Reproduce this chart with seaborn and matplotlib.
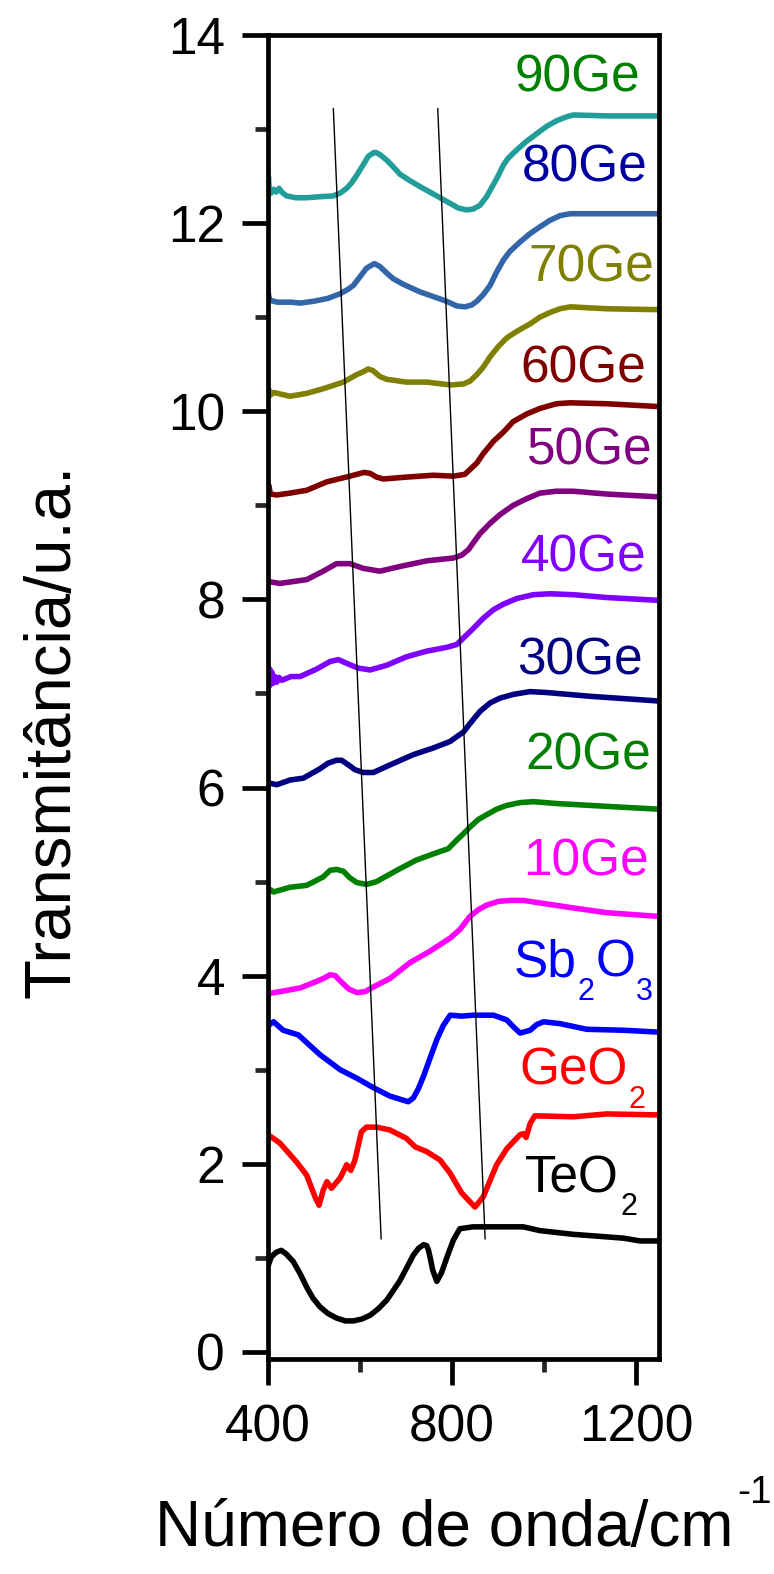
import numpy as np
import pandas as pd
import matplotlib
matplotlib.use("Agg")
import matplotlib.pyplot as plt
import seaborn as sns

# ---------------- data ----------------
x_90 = [400, 401, 403, 407, 412, 418, 424, 430, 440, 460, 484, 510, 542, 557, 571, 582, 593, 607, 618, 630, 635, 643, 658, 672, 687, 709, 730, 752, 774, 796, 814, 832, 846, 861, 875, 890, 901, 912, 922, 941, 962, 984, 1006, 1028, 1049, 1064, 1136, 1249]
y_90 = [12.40, 12.49, 12.33, 12.32, 12.36, 12.33, 12.37, 12.33, 12.29, 12.27, 12.27, 12.28, 12.29, 12.32, 12.37, 12.43, 12.51, 12.62, 12.71, 12.75, 12.75, 12.73, 12.67, 12.60, 12.52, 12.45, 12.39, 12.33, 12.27, 12.21, 12.16, 12.14, 12.15, 12.19, 12.28, 12.41, 12.51, 12.62, 12.69, 12.78, 12.87, 12.95, 13.03, 13.09, 13.13, 13.15, 13.14, 13.14]

x_80 = [400, 401, 404, 420, 450, 470, 500, 530, 557, 575, 586, 600, 614, 631, 643, 658, 672, 694, 730, 759, 788, 810, 828, 843, 854, 868, 883, 897, 912, 926, 948, 970, 991, 1013, 1035, 1057, 1249]
y_80 = [11.32, 11.24, 11.18, 11.16, 11.16, 11.15, 11.17, 11.20, 11.25, 11.30, 11.34, 11.43, 11.52, 11.57, 11.54, 11.47, 11.41, 11.35, 11.27, 11.22, 11.17, 11.12, 11.11, 11.13, 11.17, 11.24, 11.34, 11.48, 11.61, 11.70, 11.80, 11.89, 11.96, 12.03, 12.08, 12.10, 12.10]

x_70 = [400, 402, 405, 412, 430, 448, 484, 520, 564, 593, 607, 618, 629, 643, 658, 701, 745, 796, 825, 839, 854, 868, 883, 901, 919, 941, 970, 991, 1013, 1035, 1057, 1136, 1249]
y_70 = [10.14, 10.23, 10.17, 10.20, 10.18, 10.16, 10.19, 10.24, 10.31, 10.39, 10.42, 10.45, 10.43, 10.37, 10.34, 10.31, 10.31, 10.28, 10.29, 10.32, 10.39, 10.47, 10.58, 10.69, 10.78, 10.85, 10.93, 11.00, 11.05, 11.09, 11.11, 11.09, 11.08]

x_60 = [400, 402, 405, 419, 448, 484, 528, 578, 609, 622, 636, 651, 701, 759, 803, 828, 839, 854, 868, 890, 912, 933, 962, 991, 1027, 1057, 1136, 1249]
y_60 = [9.15, 9.21, 9.12, 9.11, 9.13, 9.16, 9.25, 9.31, 9.35, 9.34, 9.30, 9.28, 9.30, 9.32, 9.31, 9.33, 9.38, 9.45, 9.55, 9.68, 9.78, 9.89, 9.97, 10.03, 10.08, 10.09, 10.08, 10.05]

x_50 = [400, 426, 455, 484, 520, 549, 578, 607, 643, 687, 745, 803, 821, 836, 846, 861, 883, 904, 933, 962, 991, 1027, 1064, 1136, 1249]
y_50 = [8.19, 8.17, 8.19, 8.21, 8.30, 8.38, 8.38, 8.33, 8.30, 8.35, 8.41, 8.44, 8.47, 8.53, 8.60, 8.70, 8.81, 8.90, 9.00, 9.07, 9.13, 9.15, 9.15, 9.12, 9.09]

x_40 = [400, 401, 403, 405, 407, 409, 411, 415, 419, 424, 430, 440, 450, 470, 506, 535, 553, 571, 596, 622, 658, 701, 745, 788, 810, 825, 846, 868, 890, 912, 941, 977, 1013, 1064, 1136, 1249]
y_40 = [7.17, 7.28, 7.08, 7.25, 7.10, 7.22, 7.11, 7.18, 7.12, 7.17, 7.14, 7.16, 7.18, 7.18, 7.26, 7.34, 7.36, 7.32, 7.27, 7.25, 7.30, 7.39, 7.45, 7.49, 7.52, 7.59, 7.69, 7.80, 7.89, 7.95, 8.01, 8.05, 8.06, 8.05, 8.02, 7.99]

x_30 = [400, 419, 448, 477, 513, 531, 549, 560, 575, 589, 607, 629, 665, 716, 759, 796, 810, 825, 839, 861, 883, 904, 933, 970, 1006, 1100, 1249]
y_30 = [6.05, 6.03, 6.08, 6.10, 6.20, 6.26, 6.29, 6.29, 6.24, 6.19, 6.16, 6.16, 6.24, 6.35, 6.42, 6.49, 6.54, 6.59, 6.68, 6.81, 6.90, 6.95, 6.99, 7.02, 7.01, 6.97, 6.92]

x_20 = [400, 412, 448, 484, 520, 535, 549, 564, 578, 593, 614, 636, 680, 723, 774, 792, 810, 825, 839, 857, 875, 897, 919, 948, 977, 1028, 1136, 1249]
y_20 = [4.93, 4.89, 4.94, 4.96, 5.05, 5.12, 5.13, 5.11, 5.04, 4.99, 4.97, 5.00, 5.12, 5.23, 5.32, 5.35, 5.44, 5.51, 5.58, 5.66, 5.71, 5.77, 5.81, 5.84, 5.85, 5.83, 5.80, 5.77]

x_10 = [400, 426, 470, 506, 520, 535, 546, 560, 575, 593, 611, 629, 665, 709, 752, 796, 817, 839, 857, 875, 901, 926, 955, 1064, 1136, 1249]
y_10 = [3.81, 3.83, 3.87, 3.94, 3.97, 4.01, 4.00, 3.93, 3.86, 3.82, 3.83, 3.88, 3.97, 4.14, 4.26, 4.40, 4.49, 4.63, 4.70, 4.75, 4.79, 4.80, 4.80, 4.72, 4.67, 4.63]

x_sb = [400, 412, 433, 466, 513, 557, 593, 629, 665, 705, 716, 727, 738, 752, 767, 781, 796, 821, 846, 890, 919, 935, 948, 970, 984, 999, 1035, 1093, 1172, 1249]
y_sb = [3.47, 3.51, 3.42, 3.37, 3.16, 3.00, 2.91, 2.81, 2.72, 2.66, 2.70, 2.80, 2.93, 3.12, 3.32, 3.47, 3.58, 3.57, 3.58, 3.58, 3.53, 3.45, 3.39, 3.42, 3.48, 3.51, 3.49, 3.43, 3.42, 3.40]

x_ge = [400, 426, 462, 484, 502, 511, 520, 528, 538, 557, 571, 580, 589, 603, 614, 636, 665, 701, 720, 745, 774, 796, 821, 850, 868, 897, 919, 948, 955, 961, 970, 980, 1064, 1136, 1249]
y_ge = [2.31, 2.22, 2.02, 1.88, 1.65, 1.56, 1.72, 1.81, 1.74, 1.85, 1.99, 1.93, 2.04, 2.34, 2.39, 2.39, 2.36, 2.27, 2.18, 2.13, 2.04, 1.90, 1.69, 1.54, 1.65, 1.99, 2.16, 2.31, 2.32, 2.28, 2.43, 2.51, 2.50, 2.53, 2.52]

x_te = [400, 407, 418, 429, 440, 455, 470, 484, 498, 513, 530, 549, 568, 586, 604, 622, 640, 658, 672, 687, 701, 716, 727, 738, 745, 749, 754, 758, 767, 777, 790, 803, 817, 846, 955, 991, 1064, 1172, 1209, 1249]
y_te = [0.91, 1.01, 1.06, 1.08, 1.04, 0.96, 0.83, 0.69, 0.57, 0.48, 0.41, 0.36, 0.33, 0.33, 0.35, 0.39, 0.46, 0.55, 0.65, 0.76, 0.89, 1.03, 1.10, 1.14, 1.13, 1.08, 0.97, 0.87, 0.75, 0.84, 1.02, 1.19, 1.31, 1.33, 1.33, 1.29, 1.25, 1.21, 1.18, 1.18]

series_names = ["90Ge", "80Ge", "70Ge", "60Ge", "50Ge", "40Ge", "30Ge", "20Ge", "10Ge", "Sb2O3", "GeO2", "TeO2"]
series_x = [x_90, x_80, x_70, x_60, x_50, x_40, x_30, x_20, x_10, x_sb, x_ge, x_te]
series_y = [y_90, y_80, y_70, y_60, y_50, y_40, y_30, y_20, y_10, y_sb, y_ge, y_te]
line_colors = ["#229E9A", "#3366A8", "#808000", "#800000", "#800080", "#8000FF",
               "#000080", "#008000", "#FF00FF", "#0000FF", "#FF0000", "#000000"]

# curve labels: list of (text, is_subscript) parts
label_parts = [[("90Ge", False)], [("80Ge", False)], [("70Ge", False)], [("60Ge", False)],
               [("50Ge", False)], [("40Ge", False)], [("30Ge", False)], [("20Ge", False)],
               [("10Ge", False)],
               [("Sb", False), ("2", True), ("O", False), ("3", True)],
               [("GeO", False), ("2", True)],
               [("TeO", False), ("2", True)]]
label_colors = ["#008000", "#0000A0", "#808000", "#800000", "#800080", "#8000FF",
                "#000080", "#008000", "#FF00FF", "#0000FF", "#FF0000", "#000000"]
label_x = [937, 952, 965, 949, 962, 949, 942, 959, 954, 933, 946, 959]
label_y = [13.40, 12.44, 11.38, 10.31, 9.43, 8.30, 7.20, 6.19, 5.06, 3.99, 2.84, 1.70]

guide1_x = [542, 646]
guide1_y = [13.22, 1.20]
guide2_x = [769, 872]
guide2_y = [13.22, 1.20]

xticks_major = [400, 800, 1200]
xticks_minor = [600, 1000]
yticks_major = [0, 2, 4, 6, 8, 10, 12, 14]
yticks_minor = [1, 3, 5, 7, 9, 11, 13]

# ---------------- style ----------------
sns.set_theme(style="ticks")
plt.rcParams["font.family"] = ["Liberation Sans", "DejaVu Sans"]

fig = plt.figure(figsize=(7.74, 15.74), dpi=100)
W, H = 774, 1574
ax = fig.add_axes([268 / W, 1 - 1359 / H, (659 - 268) / W, (1359 - 35) / H])

for name, xs, ys, c in zip(series_names, series_x, series_y, line_colors):
    df = pd.DataFrame({"x": xs, "y": ys})
    sns.lineplot(data=df, x="x", y="y", ax=ax, color=c, linewidth=4.0,
                 sort=False, estimator=None, legend=False)
for ln in ax.lines:
    ln.set_linewidth(4.0)
    ln.set_solid_joinstyle("round")
    ln.set_solid_capstyle("round")

for gx, gy in [(guide1_x, guide1_y), (guide2_x, guide2_y)]:
    sns.lineplot(x=gx, y=gy, ax=ax, color="black", linewidth=1.0, sort=False, estimator=None)
    ax.lines[-1].set_linewidth(1.0)

MAIN_FS = 37
SUB_FS = 22
SUB_DROP = 16.5  # points, subscript baseline below main baseline
for parts, c, lx, ly in zip(label_parts, label_colors, label_x, label_y):
    prev = None
    for txt, is_sub in parts:
        fs = SUB_FS if is_sub else MAIN_FS
        dy = -SUB_DROP if is_sub else 0
        if prev is None:
            prev = ax.text(lx, ly, txt, color=c, fontsize=fs, ha="left", va="baseline")
        else:
            prev = ax.annotate(txt, xy=(1, ly), xycoords=(prev, "data"),
                               xytext=(0.8, dy), textcoords="offset points",
                               color=c, fontsize=fs, ha="left", va="baseline")

ax.set_xlim(400, 1250)
ax.set_ylim(-0.075, 14)
ax.set_xticks(xticks_major)
ax.set_xticks(xticks_minor, minor=True)
ax.set_yticks(yticks_major)
ax.set_yticks(yticks_minor, minor=True)
ax.set_xticklabels([str(v) for v in xticks_major])
ax.set_yticklabels([str(v) for v in yticks_major])
ax.set_xlabel("")
ax.set_ylabel("")

for s in ax.spines.values():
    s.set_linewidth(3.4)
    s.set_color("black")
    s.set_visible(True)

ax.tick_params(axis="both", which="major", direction="out", length=19, width=3.4,
               labelsize=37, colors="black", top=False, right=False)
ax.tick_params(axis="both", which="minor", direction="out", length=9.5, width=3.4,
               top=False, right=False)
ax.tick_params(axis="y", which="major", pad=12)
ax.tick_params(axis="x", which="major", pad=13)

fig.text(70 / W, 1 - 731 / H, "Transmitância/u.a.", rotation=90, rotation_mode="anchor",
         ha="center", va="baseline", fontsize=47, color="black")
xl = fig.text(155 / W, 1 - 1546 / H, "Número de onda/cm", ha="left", va="baseline",
              fontsize=46, color="black")
ax.annotate("-1", xy=(1, 1 - 1546 / H), xycoords=(xl, fig.transFigure),
            xytext=(2.5, 31), textcoords="offset points", fontsize=28, color="black",
            ha="left", va="baseline", annotation_clip=False)

fig.savefig("out.png", dpi=100, facecolor="white")
